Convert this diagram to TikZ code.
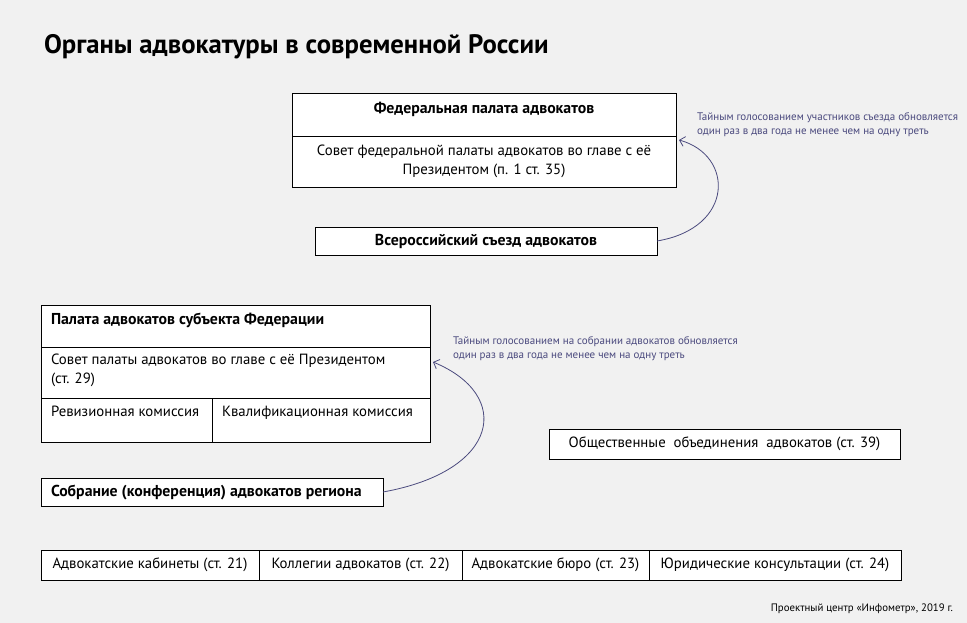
\documentclass[tikz,border=0pt]{standalone}
\usepackage{fontspec}
\setmainfont{PT Sans}
\usetikzlibrary{arrows.meta, positioning}
\definecolor{bgGray}{HTML}{F1F1F1}
\definecolor{noteBlue}{HTML}{4B4A7E}

\begin{document}
\begin{tikzpicture}[x=1pt, y=-1pt,
    every node/.style={font=\fontsize{14.8}{18.5}\selectfont, inner sep=0pt, outer sep=0pt},
    cell/.style={draw, fill=white, line width=0.8pt, anchor=north west, align=center},
    boldtxt/.style={font=\fontsize{15.8}{18}\selectfont\bfseries},
    note/.style={font=\fontsize{11}{14}\selectfont, text=noteBlue, align=left, anchor=north west},
    vote/.style={draw=noteBlue, line width=0.8pt, -{Straight Barb[length=5pt, width=10pt]}}]

    \fill[bgGray] (0,0) rectangle (967,623);
    \useasboundingbox (0,0) rectangle (967,623);

    \node[anchor=base west, font=\fontsize{26.7}{30}\selectfont\bfseries] (title) at (44,54) {Органы адвокатуры в современной России};

    % federal level
    \node[cell, minimum width=384, minimum height=43] (fedHead) at (292,93) {};
    \node[boldtxt, below=9pt of fedHead.north] (fedHeadTxt) {Федеральная палата адвокатов};
    \node[cell, minimum width=384, minimum height=51] (fedCouncil) at (292,136) {Совет федеральной палаты адвокатов во главе с её\\Президентом (п. 1 ст. 35)};
    \node[cell, minimum width=342, minimum height=28, boldtxt] (congress) at (315,227) {Всероссийский съезд адвокатов};

    % regional level
    \node[cell, minimum width=389, minimum height=42] (regHead) at (41,305) {};
    \node[boldtxt, below right=8pt and 10pt of regHead.north west] (regHeadTxt) {Палата адвокатов субъекта Федерации};
    \node[cell, minimum width=389, minimum height=51] (regCouncil) at (41,347) {};
    \node[align=left, below right=7pt and 10pt of regCouncil.north west] (regCouncilTxt) {Совет палаты адвокатов во главе с её Президентом\\(ст. 29)};
    \node[cell, minimum width=171, minimum height=44] (regAudit) at (41,398) {};
    \node[below right=8pt and 10pt of regAudit.north west] (regAuditTxt) {Ревизионная комиссия};
    \node[cell, minimum width=218, minimum height=44] (regQual) at (212,398) {};
    \node[below right=8pt and 10pt of regQual.north west] (regQualTxt) {Квалификационная комиссия};
    \node[cell, minimum width=342, minimum height=28] (assembly) at (41,478) {};
    \node[boldtxt, right=10pt of assembly.west] (assemblyTxt) {Собрание (конференция) адвокатов региона};

    \node[cell, minimum width=351, minimum height=30] (societies) at (549,429) {Общественные\ \ объединения\ \ адвокатов (ст. 39)};

    % forms of practice
    \node[cell, minimum width=218, minimum height=30] (cabinets) at (41,550) {Адвокатские кабинеты (ст. 21)};
    \node[cell, minimum width=203, minimum height=30, right=0pt of cabinets] (colleges) {Коллегии адвокатов (ст. 22)};
    \node[cell, minimum width=187, minimum height=30, right=0pt of colleges] (bureaus) {Адвокатские бюро (ст. 23)};
    \node[cell, minimum width=252, minimum height=30, right=0pt of bureaus] (consults) {Юридические консультации (ст. 24)};

    % elections
    \draw[vote] (congress.east) .. controls +(78,-13) and +(55,15) .. ([xshift=3pt, yshift=-4pt]fedCouncil.north east);
    \draw[vote] (assembly.east) .. controls +(117,-21) and +(80,33) .. ([xshift=3pt, yshift=-15pt]regCouncil.north east);

    \node[note] (fedNote) at (697,113) {Тайным голосованием участников съезда обновляется\\один раз в два года не менее чем на одну треть};
    \node[note] (regNote) at (453,337) {Тайным голосованием на собрании адвокатов обновляется\\один раз в два года не менее чем на одну треть};

    \node[anchor=east, font=\fontsize{10.8}{12}\selectfont] (source) at (953,609) {Проектный центр «Инфометр», 2019 г.};
\end{tikzpicture}
\end{document}
